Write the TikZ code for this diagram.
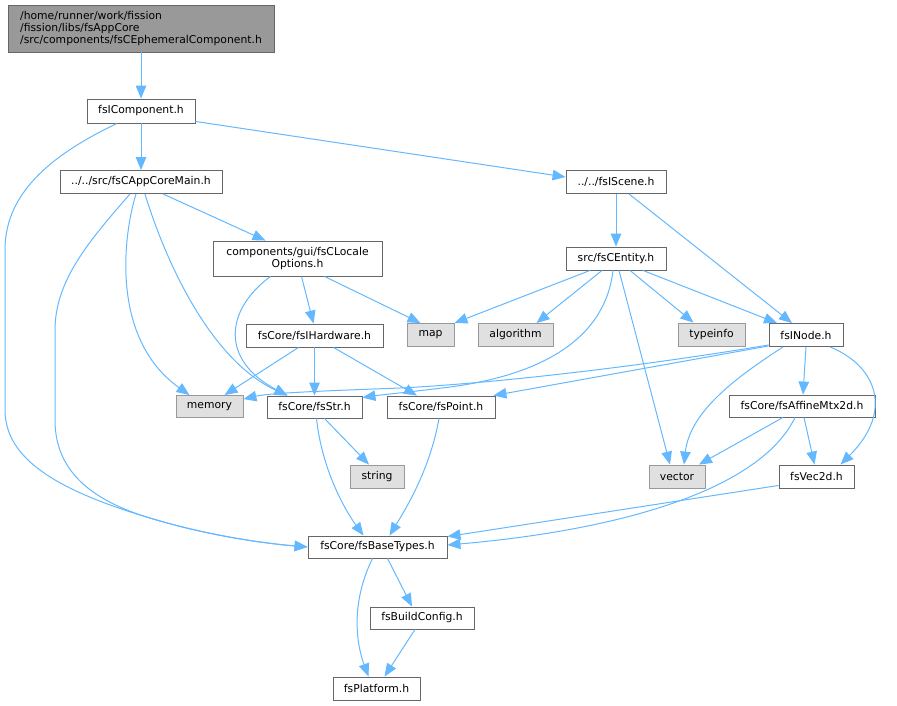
\documentclass[tikz,border=0pt]{standalone}
\usepackage{fontspec}
\setmainfont{DejaVu Sans}
\usetikzlibrary{arrows.meta}
\definecolor{edgeblue}{HTML}{63B8FF}
\definecolor{nodeborder}{HTML}{666666}
\definecolor{extfill}{HTML}{E0E0E0}
\definecolor{extborder}{HTML}{999999}
\definecolor{topfill}{HTML}{999999}
\tikzset{
  box/.style={draw=nodeborder, fill=white, line width=0.9pt, inner sep=0pt,
    font=\fontsize{10.8}{12}\selectfont, text=black},
  extbox/.style={box, draw=extborder, fill=extfill},
  topbox/.style={box, draw=nodeborder, fill=topfill, align=left},
  dep/.style={draw=edgeblue, line width=1pt, -{Triangle[length=13pt,width=10.5pt]}},
}
\begin{document}
\begin{tikzpicture}[x=1pt,y=-1pt]
\path[use as bounding box] (0,0) rectangle (897,705);

\node[topbox, minimum width=266, minimum height=47] (top) at (141,28.5)
  {/home/runner/work/fission\\/fission/libs/fsAppCore\\/src/components/fsCEphemeralComponent.h};
\node[box, minimum width=108, minimum height=24] (comp) at (141,111) {fsIComponent.h};
\node[box, minimum width=162, minimum height=23] (main) at (141,182) {../../src/fsCAppCoreMain.h};
\node[box, minimum width=100, minimum height=23] (scene) at (616,182) {../../fsIScene.h};
\node[box, minimum width=169, minimum height=35, align=center] (locale) at (297.5,258.5) {components/gui/fsCLocale\\Options.h};
\node[box, minimum width=100, minimum height=23] (entity) at (616,258.5) {src/fsCEntity.h};
\node[extbox, minimum width=47, minimum height=23] (map) at (430.5,335) {map};
\node[extbox, minimum width=75, minimum height=23] (algo) at (515.5,335) {algorithm};
\node[box, minimum width=137, minimum height=23] (hw) at (314.5,335.5) {fsCore/fsIHardware.h};
\node[extbox, minimum width=67, minimum height=23] (typeinfo) at (711.5,334.5) {typeinfo};
\node[box, minimum width=74, minimum height=23] (inode) at (806,335) {fsINode.h};
\node[extbox, minimum width=67, minimum height=22] (memory) at (209.5,406.5) {memory};
\node[box, minimum width=95, minimum height=22] (str) at (314.5,407) {fsCore/fsStr.h};
\node[box, minimum width=108, minimum height=22] (point) at (441,407) {fsCore/fsPoint.h};
\node[box, minimum width=146, minimum height=22] (affine) at (802,406) {fsCore/fsAffineMtx2d.h};
\node[extbox, minimum width=54, minimum height=23] (string) at (377,476.5) {string};
\node[extbox, minimum width=56, minimum height=23] (vector) at (677,476.5) {vector};
\node[box, minimum width=75, minimum height=23] (vec2d) at (816.5,476.5) {fsVec2d.h};
\node[box, minimum width=139, minimum height=22] (base) at (377.5,547) {fsCore/fsBaseTypes.h};
\node[box, minimum width=104, minimum height=22] (build) at (422,618) {fsBuildConfig.h};
\node[box, minimum width=87, minimum height=23] (plat) at (376.5,688.5) {fsPlatform.h};

% edges
\draw[dep] (top.south) -- (comp.north);
\draw[dep] (comp.south) -- (main.north);
\draw[dep] ([yshift=2pt]comp.south east) -- ([yshift=5pt]scene.west);
\draw[dep] ([xshift=-24pt]comp.south) .. controls (40,160) and (5,200) .. (5,250) -- (5,410)
  .. controls (5,460) and (60,490) .. (140,515) .. controls (200,534) and (260,543) .. (base.west);
\draw[dep] ([xshift=-11pt]main.south) .. controls (90,240) and (55,280) .. (55,330) -- (55,420)
  .. controls (55,470) and (90,500) .. (150,518) .. controls (205,535) and (260,543) .. (base.west);
\draw[dep] ([xshift=-5pt]main.south) .. controls (122,240) and (112,340) .. ([xshift=-20pt]memory.north);
\draw[dep] ([xshift=4pt]main.south) .. controls (165,260) and (210,360) .. ([xshift=-27pt]str.north);
\draw[dep] ([xshift=22pt]main.south) -- ([xshift=-32pt]locale.north);

\draw[dep] ([xshift=4pt]locale.south) -- ([xshift=-1pt]hw.north);
\draw[dep] ([xshift=27pt]locale.south) -- ([xshift=-10pt]map.north);
\draw[dep] ([xshift=-27pt]locale.south) .. controls (225,310) and (220,360) .. ([xshift=-27pt]str.north);

\draw[dep] ([xshift=-16pt]hw.south) -- ([xshift=15pt]memory.north);
\draw[dep] (hw.south) -- (str.north);
\draw[dep] ([xshift=19pt]hw.south) -- ([xshift=-24pt]point.north);

\draw[dep] (scene.south) -- (entity.north);
\draw[dep] ([xshift=13pt]scene.south) -- ([xshift=-14pt]inode.north);

\draw[dep] ([xshift=-26pt]entity.south) -- (map.north east);
\draw[dep] ([xshift=-14pt]entity.south) -- ([xshift=21pt]algo.north);
\draw[dep] ([xshift=14pt]entity.south) -- ([xshift=-18pt]typeinfo.north);
\draw[dep] ([xshift=27pt]entity.south) -- ([xshift=-29pt]inode.north);
\draw[dep] ([xshift=3pt]entity.south) -- ([xshift=-7pt]vector.north);
\draw[dep] ([xshift=-3pt]entity.south) .. controls (605,340) and (540,375) .. (450,387)
  .. controls (410,392) and (380,395) .. ([yshift=-2pt]str.north east);

\draw[dep] ([yshift=2pt]inode.south west) .. controls (650,365) and (500,383) .. (400,388)
  .. controls (320,391) and (270,393) .. ([yshift=-4pt]memory.north east);
\draw[dep] ([yshift=1pt]inode.south west) -- ([xshift=-2pt]point.north east);
\draw[dep] ([xshift=-23pt]inode.south) .. controls (740,375) and (690,410) .. ([xshift=7pt]vector.north);
\draw[dep] (inode.south) -- ([xshift=1pt]affine.north);
\draw[dep] ([xshift=24pt]inode.south) .. controls (875,365) and (895,410) .. ([xshift=24pt]vec2d.north);

\draw[dep] ([xshift=-19pt]affine.south) -- ([xshift=22pt]vector.north);
\draw[dep] ([xshift=2pt]affine.south) -- ([xshift=-2pt]vec2d.north);
\draw[dep] ([xshift=-7pt]affine.south) .. controls (760,490) and (620,530) .. ([yshift=2pt]base.east);
\draw[dep] ([yshift=3pt]vec2d.south west) -- ([yshift=-1pt]base.north east);

\draw[dep] ([xshift=10pt]str.south) -- ([xshift=-8pt]string.north);
\draw[dep] ([xshift=2pt]str.south) .. controls (322,470) and (345,510) .. ([xshift=-14pt]base.north);
\draw[dep] ([xshift=-2pt]point.south) .. controls (430,470) and (405,510) .. ([xshift=12pt]base.north);

\draw[dep] ([xshift=10pt]base.south) -- ([xshift=-10pt]build.north);
\draw[dep] ([xshift=-5pt]base.south) .. controls (352,600) and (355,640) .. ([xshift=-8pt]plat.north);
\draw[dep] ([xshift=-7pt]build.south) -- ([xshift=8pt]plat.north);
\end{tikzpicture}
\end{document}
